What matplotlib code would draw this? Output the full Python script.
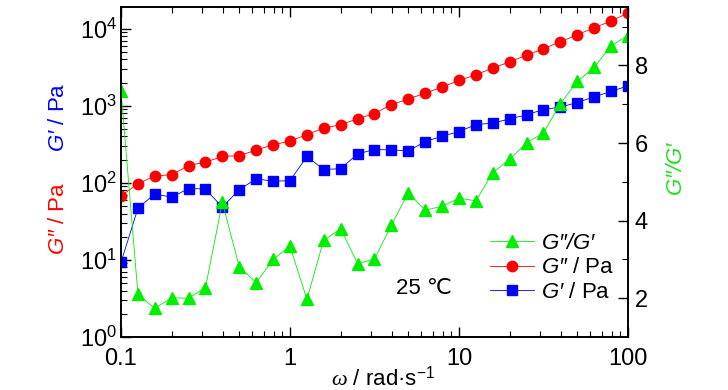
import matplotlib
matplotlib.use('Agg')
import matplotlib.pyplot as plt
import numpy as np
from matplotlib.ticker import LogLocator, LogFormatterMathtext, FixedLocator, NullFormatter, FuncFormatter

plt.rcParams['font.family'] = ['Liberation Sans Narrow', 'Liberation Sans', 'DejaVu Sans']
plt.rcParams['mathtext.fontset'] = 'custom'
plt.rcParams['mathtext.rm'] = 'Liberation Sans'
plt.rcParams['mathtext.sf'] = 'Liberation Sans:italic'
plt.rcParams['mathtext.it'] = 'Liberation Serif:italic'

# angular frequency, rad/s
omega = [0.1, 0.126, 0.158, 0.2, 0.251, 0.316, 0.398, 0.501, 0.631, 0.794,
         1.0, 1.26, 1.58, 2.0, 2.51, 3.16, 3.98, 5.01, 6.31, 7.94,
         10.0, 12.6, 15.8, 20.0, 25.1, 31.6, 39.8, 50.1, 63.1, 79.4, 100.0]
# loss modulus G'' (Pa)
g2 = [68, 97, 123, 128, 168, 186, 220, 226, 266, 312,
      348, 424, 513, 571, 678, 794, 1040, 1222, 1462, 1750,
      2133, 2530, 3090, 3727, 4550, 5500, 6780, 8360, 10300, 12600, 16000]
# storage modulus G' (Pa)
g1 = [9.3, 46.9, 71.9, 65.2, 84.4, 83.5, 48.3, 81.8, 113, 105,
      107, 220, 149, 153, 238, 271, 268, 260, 344, 403,
      463, 571, 596, 678, 764, 896, 962, 1104, 1309, 1535, 1820]
# G''/G'
ratio = [7.35, 2.1, 1.74, 2.01, 2.0, 2.27, 4.47, 2.81, 2.4, 3.0,
         3.34, 1.97, 3.49, 3.79, 2.89, 3.01, 3.88, 4.72, 4.27, 4.37,
         4.58, 4.51, 5.23, 5.59, 6.0, 6.26, 7.01, 7.59, 7.95, 8.51, 8.77]

fig = plt.figure(figsize=(7.28, 3.9), dpi=100)
ax = fig.add_axes([0.1662, 0.1359, 0.6964, 0.8454])
ax2 = ax.twinx()

l_red, = ax.plot(omega, g2, color='red', lw=0.6, marker='o', ms=7.5, mec='red', mfc='red')
l_blue, = ax.plot(omega, g1, color='blue', lw=0.6, marker='s', ms=6.5, mec='blue', mfc='blue')
l_green, = ax2.plot(omega, ratio, color='#00ee00', lw=0.6, marker='^', ms=8, mec='#00ee00', mfc='#00ee00')

ax.set_xscale('log')
ax.set_yscale('log')
ax.set_xlim(0.1, 100)
ax.set_ylim(1, 1.9e4)
ax2.set_ylim(1, 9.5)

ax.xaxis.set_major_formatter(FuncFormatter(lambda v, p: '%g' % v))
ax.yaxis.set_major_locator(LogLocator(base=10, numticks=10))
ax.yaxis.set_minor_locator(LogLocator(base=10, subs=np.arange(2, 10), numticks=10))
ax.yaxis.set_major_formatter(LogFormatterMathtext())
ax.yaxis.set_minor_formatter(NullFormatter())
ax2.yaxis.set_major_locator(FixedLocator([2, 4, 6, 8]))
ax2.yaxis.set_minor_locator(FixedLocator([3, 5, 7, 9]))

ax.tick_params(axis='both', which='major', direction='in', length=7, width=1, labelsize=17)
ax.tick_params(axis='both', which='minor', direction='in', length=4, width=0.8)
ax.tick_params(axis='x', which='both', top=True, pad=8)
ax.tick_params(axis='y', which='both', right=False, pad=3)
ax2.tick_params(axis='y', which='major', direction='in', length=7, width=1, labelsize=17, pad=5)
ax2.tick_params(axis='y', which='minor', direction='in', length=4, width=0.8)
for a in (ax, ax2):
    for s in a.spines.values():
        s.set_linewidth(1.2)

fig.text(0.080, 0.70, "$\\mathsf{G\u2032}$ / Pa", color='blue', rotation=90,
         ha='center', va='center', fontsize=16)
fig.text(0.080, 0.441, "$\\mathsf{G\u2033}$ / Pa", color='red', rotation=90,
         ha='center', va='center', fontsize=16)
fig.text(0.9286, 0.569, "$\\mathsf{G\u2033/G\u2032}$", color='#22dd22', rotation=90,
         ha='center', va='center', fontsize=16)
fig.text(0.526, 0.031, "$\\mathit{\u03c9}$ / rad\u00b7s$^{-1}$", ha='center', va='center', fontsize=16)
fig.text(0.582, 0.259, "25 \u2103", ha='center', va='center', fontsize=16,
         family=['Liberation Sans', 'DejaVu Sans'])

ax2.legend([l_green, l_red, l_blue],
           ["$\\mathsf{G\u2033/G\u2032}$", "$\\mathsf{G\u2033}$ / Pa", "$\\mathsf{G\u2032}$ / Pa"],
           loc='center', bbox_to_anchor=(0.758, 0.313), bbox_transform=fig.transFigure,
           frameon=False, fontsize=16, handlelength=2.0, labelspacing=0.15,
           handletextpad=0.3, borderpad=0.1)

fig.savefig('out.png', dpi=100)
